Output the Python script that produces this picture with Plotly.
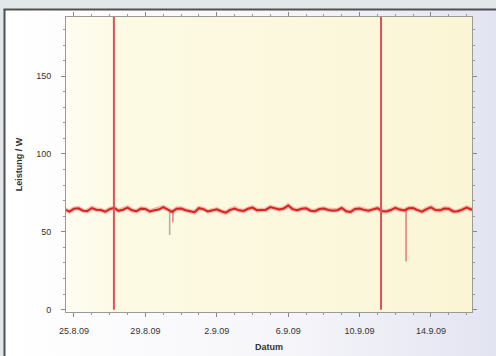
import base64
import pandas as pd
import plotly.graph_objects as go

# ---- data ----
start_time = "2009-08-24 12:00"
step = "6h"
power_w = [
    64.3, 63.0, 64.9, 65.1,
    63.6, 63.4, 65.3, 64.2,
    64.0, 62.9, 64.6, 65.4,
    63.5, 64.2, 65.6, 63.8,
    63.2, 64.9, 64.7, 63.1,
    63.9, 64.3, 65.8, 64.4,
    62.8, 64.9, 65.0, 63.9,
    63.3, 62.6, 65.2, 64.6,
    63.1, 63.7, 64.5, 63.2,
    62.3, 64.1, 65.0, 63.8,
    63.4, 64.8, 65.6, 63.9,
    64.0, 64.2, 65.9, 65.3,
    64.4, 65.0, 66.9, 64.6,
    63.9, 64.8, 65.1, 63.6,
    63.3, 64.6, 64.9, 64.0,
    63.6, 63.9, 65.3, 63.2,
    62.8, 64.7, 65.0, 64.1,
    63.5, 64.4, 65.2, 63.3,
    63.1, 64.0, 65.4, 64.3,
    63.7, 65.1, 65.3, 63.9,
    63.0, 64.6, 65.7, 64.0,
    63.8, 64.9, 64.8, 63.1,
    63.2, 64.3, 65.6, 64.4,
    64.1,
]

spike_times = ["2009-08-27 05:40", "2009-09-11 04:50"]
spike_low = [0, 0]
spike_high = [200, 200]

dip_times = ["2009-08-30 08:40", "2009-08-30 13:00", "2009-09-12 14:30"]
dip_from = [64, 64, 64]
dip_to = [48, 56, 31]
dip_colors = ["#b8aea6", "#e88a8a", "#e88080"]

x_range = ["2009-08-24 13:15", "2009-09-16 07:10"]
y_range = [-1.5, 188]
y_ticks = [0, 50, 100, 150]

# ---- figure ----
times = pd.date_range(start_time, periods=len(power_w), freq=step)

fig = go.Figure()

for t, a, b, c in zip(dip_times, dip_from, dip_to, dip_colors):
    fig.add_trace(go.Scatter(x=[t, t], y=[a, b], mode="lines",
                             line=dict(color=c, width=1.6), hoverinfo="skip",
                             showlegend=False))

fig.add_trace(go.Scatter(x=times, y=power_w, mode="lines",
                         line=dict(color="rgba(220,60,60,0.35)", width=4.5),
                         hoverinfo="skip", showlegend=False))
fig.add_trace(go.Scatter(x=times, y=power_w, mode="lines",
                         line=dict(color="#d42424", width=2),
                         showlegend=False))

for t, lo, hi in zip(spike_times, spike_low, spike_high):
    fig.add_trace(go.Scatter(x=[t, t], y=[lo, hi], mode="lines",
                             line=dict(color="#e0505c", width=2),
                             hoverinfo="skip", showlegend=False))


def svg_uri(stops):
    st = "".join(f'<stop offset="{o}" stop-color="{c}"/>' for o, c in stops)
    svg = ('<svg xmlns="http://www.w3.org/2000/svg" width="100" height="100" '
           'viewBox="0 0 100 100" preserveAspectRatio="none"><defs>'
           '<linearGradient id="g" x1="0" y1="0" x2="1" y2="0">' + st +
           '</linearGradient></defs><rect width="100" height="100" fill="url(#g)"/></svg>')
    return "data:image/svg+xml;base64," + base64.b64encode(svg.encode()).decode()


L, R, T, B = 66, 24, 17, 44
W, H = 496, 356
pw, ph = W - L - R, H - T - B


def px(x):
    return (x - L) / pw


def py(y):
    return (H - B - y) / ph


fig.update_layout(
    width=W, height=H,
    margin=dict(l=L, r=R, t=T, b=B, pad=0),
    paper_bgcolor="#e2e7ea",
    plot_bgcolor="rgba(0,0,0,0)",
    font=dict(family="Liberation Sans, Arial, sans-serif", size=9, color="#333333"),
    images=[
        dict(source=svg_uri([(0, "#ffffff"), (0.55, "#f6f6fa"), (1, "#e2e3f1")]),
             xref="paper", yref="paper", x=px(5), y=py(10),
             sizex=(W + 10 - 5) / pw, sizey=(H + 10 - 10) / ph,
             xanchor="left", yanchor="top", sizing="stretch", layer="below"),
        dict(source=svg_uri([(0, "#fffdf2"), (0.12, "#fdfae4"), (0.6, "#fcf8dd"), (1, "#faf5d4")]),
             xref="paper", yref="paper", x=0, y=1, sizex=1, sizey=1,
             xanchor="left", yanchor="top", sizing="stretch", layer="below"),
    ],
    shapes=[
        dict(type="line", xref="paper", yref="paper", x0=px(4.5), x1=px(4.5),
             y0=py(9), y1=py(H + 5), line=dict(color="#505050", width=2)),
        dict(type="line", xref="paper", yref="paper", x0=px(3.5), x1=px(W + 5),
             y0=py(9.5), y1=py(9.5), line=dict(color="#505050", width=2)),
    ],
)

fig.update_xaxes(
    type="date", range=x_range,
    tick0="2009-08-25", dtick=4 * 86400000, tickformat="%-d.%-m.%y",
    ticks="outside", ticklen=4, tickcolor="#888888", mirror="allticks",
    showline=True, linecolor="#9a9a9a", linewidth=1,
    minor=dict(dtick=86400000, ticks="outside", ticklen=2, tickcolor="#999999"),
    showgrid=False, zeroline=False,
    ticklabelstandoff=6,
    title=dict(text="<b>Datum</b>", font=dict(size=9, color="#333333"), standoff=8),
    automargin=False,
)
fig.update_yaxes(
    range=y_range, tickvals=y_ticks,
    ticks="outside", ticklen=4, tickcolor="#888888", mirror="allticks",
    showline=True, linecolor="#9a9a9a", linewidth=1,
    minor=dict(dtick=10, tick0=0, ticks="outside", ticklen=2, tickcolor="#999999"),
    showgrid=False, zeroline=False,
    ticklabelstandoff=8,
    title=dict(text="<b>Leistung / W</b>", font=dict(size=9, color="#333333"), standoff=12),
    automargin=False,
)

fig.write_html("out.html", config={"displayModeBar": False},
               post_script="document.body.style.margin='0';document.body.style.overflow='hidden';")
